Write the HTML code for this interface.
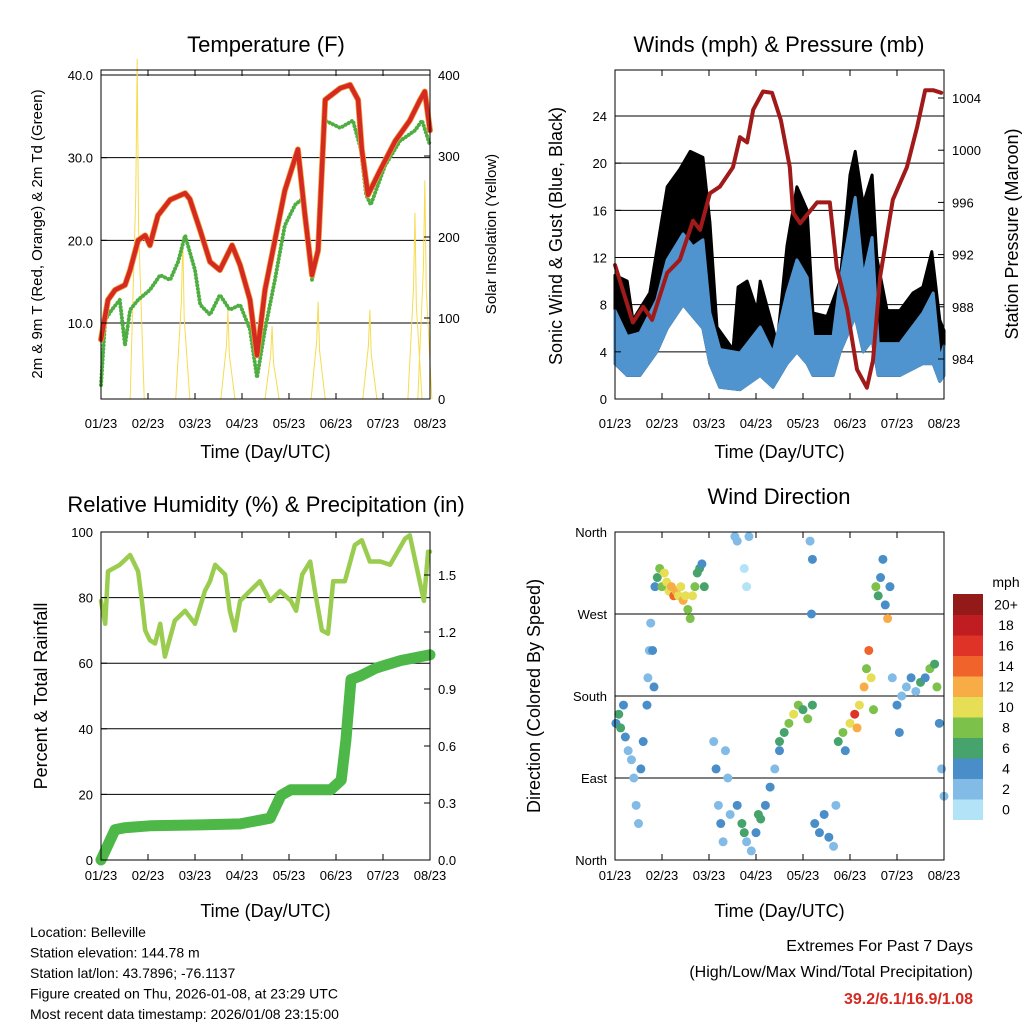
<!DOCTYPE html>
<html><head><meta charset="utf-8">
<style>
body{margin:0;background:#fff;}
svg{display:block;font-family:"Liberation Sans",sans-serif;}
</style></head>
<body>
<svg id="c" width="1024" height="1024" viewBox="0 0 1024 1024"></svg>
<script>
// ---------- DATA ----------
const dayTicks = ["01/23","02/23","03/23","04/23","05/23","06/23","07/23","08/23"];
// Temperature (F)
const tempDays = [0,0.15,0.3,0.51,0.62,0.79,0.94,1.04,1.21,1.47,1.79,1.89,2.11,2.32,2.53,2.79,2.96,3.17,3.32,3.49,3.7,3.91,4.19,4.34,4.49,4.62,4.77,5.09,5.3,5.47,5.55,5.68,5.94,6.26,6.57,6.79,6.89,7.0];
const tempVals = [8,12.8,14,14.6,16.4,20,20.6,19.4,23,24.9,25.7,25,21.2,17.4,16.4,19.4,17,12.8,6.1,14,20,26,31,23,15.8,18.8,37,38.4,38.8,37,31,25.5,28.5,32,34.5,37,38,33.3];
const dewDays = [0,0.09,0.23,0.4,0.51,0.62,0.79,1.04,1.26,1.47,1.64,1.79,2.0,2.11,2.32,2.53,2.74,2.96,3.17,3.32,3.49,3.7,3.91,4.13,4.28,4.4,4.49,4.62,4.77,5.09,5.36,5.53,5.64,5.74,6.04,6.36,6.68,6.83,7.0];
const dewVals = [2.5,10.4,11.6,12.8,7.3,11.6,12.8,14,15.8,15.2,17.4,20.6,16.4,12.2,11,13.4,11.6,12.2,9.2,3.4,9.2,15.2,21.8,24.3,25,20.2,15.2,18.8,34.5,33.6,34.5,31,25.5,24.3,29,32,33.3,34.5,31.5];
const solarDays = [0.77,1.74,2.7,3.64,4.62,5.72,6.68,6.89];
const solarPeaks = [420,200,110,90,120,110,230,270];
// Winds
const gustDays = [0,0.26,0.38,0.74,1.11,1.38,1.6,1.87,2.02,2.17,2.51,2.62,2.81,3.02,3.09,3.3,3.45,3.66,3.87,4.09,4.21,4.51,4.79,5.0,5.11,5.28,5.47,5.57,5.79,6.06,6.34,6.55,6.74,6.91,7.0];
const gustVals = [10.5,10,6.7,9,18,19.5,21,20.5,15,6.1,4.2,9.5,10,7.5,10,6.9,4.7,13,18,16,7.3,7,10,19,21,16.5,19,12,7.5,7.5,9,9.5,12.5,6.7,5.8];
const windDays = [0,0.26,0.53,0.89,1.11,1.45,1.66,1.87,2.02,2.23,2.66,3.09,3.36,3.66,3.87,4.09,4.21,4.64,4.79,5.11,5.28,5.47,5.6,6.06,6.55,6.77,6.91,7.0];
const windVals = [7.5,5.3,5.6,8.4,11.8,14,12.9,13.5,7.3,4.2,3.9,6.1,3.9,9,11.8,10.3,5.3,5.3,10,17.1,10.3,13.7,4.7,4.7,7.3,9,3.3,4.5];
const windLowVals = [3,2,2,4,6,8,7,6,3,1,0.8,2,1,3,4,3,2,2,4,7,4,5,2,2,3,3,1.5,2];
const presDays = [0,0.38,0.6,0.79,1.11,1.38,1.66,1.81,2.02,2.23,2.51,2.66,2.81,2.94,3.15,3.34,3.53,3.72,3.79,3.94,4.3,4.57,4.72,4.94,5.15,5.36,5.49,5.64,5.91,6.21,6.43,6.6,6.77,6.94];
const presVals = [991.2,986.8,988,987,990.6,991.6,994.6,993.9,996.7,997.2,998.7,1001,1000.6,1003.1,1004.5,1004.4,1002.3,998.7,995.2,994.4,996,996,991,987.8,983.2,981.8,983.9,990.3,996.2,998.7,1001.8,1004.6,1004.6,1004.4];
// Humidity & rain
const rhDays = [0,0.09,0.15,0.4,0.62,0.79,0.87,0.94,1.04,1.15,1.26,1.36,1.57,1.79,2.0,2.21,2.32,2.43,2.64,2.74,2.85,2.96,3.17,3.38,3.6,3.81,4.04,4.15,4.28,4.45,4.55,4.70,4.83,4.94,5.19,5.4,5.55,5.72,5.94,6.15,6.47,6.57,6.87,6.96,7.0];
const rhVals = [79,72,88,90,93,88,79,70,67,66,72,62,73,76,72,82,85,90,87,76,70,79,82,85,79,82,79,76,87,91,82,70,69,85,85,96,97.5,91,91,90,98,99,79,94,94];
const rainDays = [0,0.15,0.3,0.51,1.04,2.11,2.96,3.6,3.83,4.04,4.89,5.11,5.21,5.32,5.53,5.85,6.38,7.0];
const rainVals = [0,0.08,0.16,0.17,0.18,0.185,0.19,0.22,0.34,0.37,0.37,0.42,0.63,0.95,0.97,1.01,1.05,1.08];
// Wind direction scatter
const dirDays = [0.02,0.08,0.12,0.18,0.22,0.28,0.35,0.4,0.45,0.5,0.55,0.6,0.68,0.7,0.73,0.76,0.8,0.83,0.85,0.9,0.95,1.0,1.05,1.1,1.15,1.2,1.25,1.3,1.35,1.4,1.45,1.5,1.55,1.6,1.65,1.7,1.75,1.8,1.85,1.9,2.1,2.15,2.2,2.25,2.3,2.35,2.4,2.45,2.55,2.6,2.75,2.8,2.85,2.6,2.7,2.75,2.8,2.9,3.0,3.05,3.1,3.2,3.3,3.4,3.5,3.5,3.6,3.7,3.8,3.9,4.0,4.1,4.2,4.15,4.2,4.18,4.25,4.35,4.45,4.55,4.65,4.7,4.75,4.85,4.9,5.0,5.1,5.15,5.2,5.3,5.35,5.4,5.45,5.5,5.55,5.6,5.65,5.7,5.75,5.8,5.85,5.9,6.0,6.05,6.1,6.2,6.3,6.4,6.5,6.6,6.7,6.8,6.85,6.9,6.95,7.0];
const dirVals = [150,160,145,170,135,120,110,90,60,40,100,130,170,200,230,260,230,190,300,310,320,300,315,305,295,300,290,295,290,300,285,290,275,265,290,300,315,320,325,300,130,100,60,40,20,120,90,50,355,350,320,300,355,60,40,30,20,10,30,50,45,60,80,100,120,130,140,150,160,170,165,155,170,350,330,270,40,30,50,25,15,60,130,140,120,150,160,145,170,190,210,230,200,165,300,290,310,330,280,265,300,200,170,140,180,190,200,185,195,200,210,215,190,150,100,70];
const dirSpeeds = [4,6,6,5,4,2,2,2,2,2,4,4,4,2,2,2,4,4,4,6,8,8,10,10,10,12,14,12,10,10,12,10,8,8,10,8,6,6,4,6,2,4,2,4,2,2,2,2,2,2,0,0,2,4,6,6,2,2,4,6,6,4,4,2,4,6,6,8,10,8,6,8,6,2,4,4,4,4,4,4,2,2,6,8,4,10,16,12,10,12,8,14,10,8,8,6,4,4,4,12,4,2,4,4,2,2,4,2,6,4,8,6,8,4,2,2];
// Colorbar
const cbLabels = ["0","2","4","6","8","10","12","14","16","18","20+"];
const cbColors = ["#b3e3f7","#82bce6","#4a8ec9","#46a36b","#7bc14a","#e6de55","#f8ac45","#f0632a","#df3327","#bf1d22","#941a1a"];

// ---------- HELPERS ----------
const svg = document.getElementById('c');
const NS = "http://www.w3.org/2000/svg";
function el(tag, attrs, parent){ const e=document.createElementNS(NS,tag); for(const k in attrs) e.setAttribute(k,attrs[k]); (parent||svg).appendChild(e); return e; }
function txt(x,y,s,size,anchor,name,extra){
  const t=el('text',Object.assign({x:x,y:y,'font-size':size,'text-anchor':anchor||'middle',fill:'#000'},extra||{}));
  t.textContent=s;
  
  
  return t;
}
function lin(d0,d1,r0,r1){ return v=>r0+(v-d0)/(d1-d0)*(r1-r0); }
function poly(xs,ys,sx,sy,color,w,name){
  const pts=xs.map((d,i)=>sx(d).toFixed(1)+","+sy(ys[i]).toFixed(1)).join(" ");
  const p=el('polyline',{points:pts,fill:'none',stroke:color,'stroke-width':w,'stroke-linejoin':'round','stroke-linecap':'round'});
  
  
  return p;
}
function frame(x0,y0,x1,y1,name){
  const r=el('rect',{x:x0,y:y0,width:x1-x0,height:y1-y0,fill:'none',stroke:'#000','stroke-width':1});
  
  
}
function xAxis(x0,x1,y0,y1,name,lOff,tOff){
  const sx=lin(0,7,x0,x1);
  dayTicks.forEach((s,i)=>{
    const x=sx(i);
    el('line',{x1:x,x2:x,y1:y1,y2:y1-6,stroke:'#000'});
    el('line',{x1:x,x2:x,y1:y0,y2:y0+6,stroke:'#000'});
    txt(x,y1+lOff,s,13,'middle',name+'-tick-label');
  });
  txt((x0+x1)/2,y1+tOff,"Time (Day/UTC)",18,'middle',name+'-x-axis-title');
  return sx;
}
function hgrid(x0,x1,y){ el('line',{x1:x0,x2:x1,y1:y,y2:y,stroke:'#000','stroke-width':1}); }
function yTicks(ticks,labels,sy,x,side,name){
  ticks.forEach((v,i)=>{
    const y=sy(v);
    el('line',{x1:x,x2:x+(side==='left'?6:-6),y1:y,y2:y,stroke:'#000'});
    txt(side==='left'?x-8:x+8,y+5,labels[i],13,side==='left'?'end':'start',name);
  });
}

// ---------- PANEL 1: Temperature ----------
(function(){
  const X0=101,X1=430,Y0=70,Y1=399;
  const sx=lin(0,7,X0,X1);
  const sy=lin(10,40,323,75);
  const sSol=lin(0,400,399,75);
  [10,20,30,40].forEach(v=>hgrid(X0,X1,sy(v)));
  solarDays.forEach((d,i)=>{
    const p=el('polyline',{points:[sx(d-0.15),sSol(0),sx(d-0.03),sSol(solarPeaks[i]*0.6),sx(d),sSol(solarPeaks[i]),sx(d+0.03),sSol(solarPeaks[i]*0.5),sx(d+0.15),sSol(0)].join(","),fill:'none',stroke:'#f5dc50','stroke-width':1});
    
    
  });
  const dew=poly(dewDays,dewVals,sx,sy,'#4fae42',4,'dewpoint-2m-line');
  dew.setAttribute('stroke-dasharray','0.1 3.5');
  poly(tempDays,tempVals,sx,sy,'#f2a03a',6,'temp-9m-line');
  poly(tempDays,tempVals,sx,sy,'#d42a22',4.5,'temp-2m-line');
  frame(X0,Y0,X1,Y1,'temperature-plot-frame');
  yTicks([10,20,30,40],["10.0","20.0","30.0","40.0"],sy,X0,'left','temp-y-tick-label');
  yTicks([0,100,200,300,400],["0","100","200","300","400"],sSol,X1,'right','solar-y-tick-label');
  xAxis(X0,X1,Y0,Y1,'temp',29,59);
  txt(266,52,"Temperature (F)",22,'middle','temperature-title');
  txt(0,0,"2m & 9m T (Red, Orange) & 2m Td (Green)",15,'middle','temp-left-axis-title',{transform:'translate(42,234) rotate(-90)'});
  txt(0,0,"Solar Insolation (Yellow)",15,'middle','solar-right-axis-title',{transform:'translate(496,234) rotate(-90)'});
})();

// ---------- PANEL 2: Winds ----------
(function(){
  const X0=615,X1=944,Y0=70,Y1=399;
  const sx=lin(0,7,X0,X1);
  const sy=lin(0,24,399,116);
  const sp=lin(984,1004,359,98);
  [4,8,12,16,20,24].forEach(v=>hgrid(X0,X1,sy(v)));
  const top=gustDays.map((d,i)=>sx(d).toFixed(1)+","+sy(gustVals[i]).toFixed(1));
  const bot=windDays.map((d,i)=>sx(d).toFixed(1)+","+sy(windLowVals[i]).toFixed(1)).reverse();
  const g=el('polygon',{points:top.concat(bot).join(" "),fill:'#000','stroke':'#000','stroke-width':3,'stroke-linejoin':'round'});
  
  
  const bt=windDays.map((d,i)=>sx(d).toFixed(1)+","+sy(windVals[i]).toFixed(1));
  const b=el('polygon',{points:bt.concat(bot).join(" "),fill:'#4f94cf','stroke':'#4f94cf','stroke-width':3,'stroke-linejoin':'round'});
  
  
  poly(presDays,presVals,sx,sp,'#a11a1a',4,'pressure-line');
  frame(X0,Y0,X1,Y1,'winds-plot-frame');
  yTicks([0,4,8,12,16,20,24],["0","4","8","12","16","20","24"],sy,X0,'left','wind-y-tick-label');
  yTicks([984,988,992,996,1000,1004],["984","988","992","996","1000","1004"],sp,X1,'right','pressure-y-tick-label');
  xAxis(X0,X1,Y0,Y1,'winds',29,59);
  txt(779,52,"Winds (mph) & Pressure (mb)",22,'middle','winds-title');
  txt(0,0,"Sonic Wind & Gust (Blue, Black)",18,'middle','wind-left-axis-title',{transform:'translate(562,236) rotate(-90)'});
  txt(0,0,"Station Pressure (Maroon)",18,'middle','pressure-right-axis-title',{transform:'translate(1018,234) rotate(-90)'});
})();

// ---------- PANEL 3: RH ----------
(function(){
  const X0=101,X1=430,Y0=532,Y1=860;
  const sx=lin(0,7,X0,X1);
  const sy=lin(0,100,860,532);
  const sr=lin(0,1.5,860,575);
  [20,40,60,80].forEach(v=>hgrid(X0,X1,sy(v)));
  poly(rainDays,rainVals,sx,sr,'#4db848',11,'cumulative-rainfall-line');
  poly(rhDays,rhVals,sx,sy,'#9acd4f',4.5,'relative-humidity-line');
  frame(X0,Y0,X1,Y1,'rh-plot-frame');
  yTicks([0,20,40,60,80,100],["0","20","40","60","80","100"],sy,X0,'left','rh-y-tick-label');
  yTicks([0,0.3,0.6,0.9,1.2,1.5],["0.0","0.3","0.6","0.9","1.2","1.5"],sr,X1,'right','rain-y-tick-label');
  xAxis(X0,X1,Y0,Y1,'rh',20,57);
  txt(266,512,"Relative Humidity (%) & Precipitation (in)",22,'middle','rh-title');
  txt(0,0,"Percent & Total Rainfall",18,'middle','rh-left-axis-title',{transform:'translate(47,696) rotate(-90)'});
})();

// ---------- PANEL 4: Wind Direction ----------
(function(){
  const X0=615,X1=944,Y0=532,Y1=860;
  const sx=lin(0,7,X0,X1);
  const sy=lin(0,360,860,532);
  [90,180,270].forEach(v=>hgrid(X0,X1,sy(v)));
  function col(s){ let i=Math.floor(s/2); if(i>10)i=10; if(i<0)i=0; return cbColors[i]; }
  dirDays.forEach((d,i)=>{
    const c=el('circle',{cx:sx(d),cy:sy(dirVals[i]),r:4.5,fill:col(dirSpeeds[i])});
    
    
  });
  frame(X0,Y0,X1,Y1,'direction-plot-frame');
  yTicks([0,90,180,270,360],["North","East","South","West","North"],sy,X0,'left','direction-y-tick-label');
  xAxis(X0,X1,Y0,Y1,'direction',20,57);
  txt(779,504,"Wind Direction",22,'middle','direction-title');
  txt(0,0,"Direction (Colored By Speed)",18,'middle','direction-left-axis-title',{transform:'translate(540,696) rotate(-90)'});
  const bh=20.5, bTop=594;
  cbColors.forEach((c,i)=>{
    const y=bTop+(10-i)*bh;
    const r=el('rect',{x:953,y:y,width:30,height:bh+0.5,fill:c});
    
    
    txt(1006,y+bh/2+5,cbLabels[i],14,'middle','colorbar-label');
  });
  txt(1006,587,"mph",14,'middle','colorbar-title');
})();

// ---------- FOOTER ----------
const info=["Location: Belleville","Station elevation: 144.78 m","Station lat/lon: 43.7896; -76.1137","Figure created on Thu, 2026-01-08, at 23:29 UTC","Most recent data timestamp: 2026/01/08 23:15:00"];
info.forEach((s,i)=>txt(30,937+i*20.5,s,14,'start','station-info-line'));
txt(973,951,"Extremes For Past 7 Days",16,'end','extremes-title');
txt(973,977,"(High/Low/Max Wind/Total Precipitation)",16,'end','extremes-subtitle');
txt(973,1004,"39.2/6.1/16.9/1.08",16,'end','extremes-values',{fill:'#d42a22','font-weight':'bold'});
</script>
</body></html>
